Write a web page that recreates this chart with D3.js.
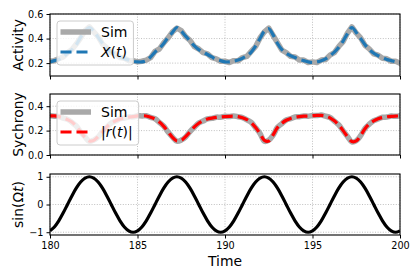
<!DOCTYPE html>
<html>
<head>
<meta charset="utf-8">
<script src="https://cdn.jsdelivr.net/npm/d3@7/dist/d3.min.js"></script>
<style>
  body { margin: 0; background: #fff; }
  svg { display: block; font-family: "DejaVu Sans", sans-serif; }
  .tick text { font-size: 9.7px; fill: #000; }
  .tick line { stroke: #000; }
</style>
</head>
<body>
<svg id="chart" width="420" height="280"></svg>
<script>
// time samples (x categories)
const TIME = [
  180, 180.25, 180.5, 180.75, 181, 181.25, 181.5, 181.75, 182, 182.25, 182.5, 182.75, 183, 183.25, 183.5, 183.75, 184, 184.25, 184.5, 184.75,
  185, 185.25, 185.5, 185.75, 186, 186.25, 186.5, 186.75, 187, 187.25, 187.5, 187.75, 188, 188.25, 188.5, 188.75, 189, 189.25, 189.5, 189.75,
  190, 190.25, 190.5, 190.75, 191, 191.25, 191.5, 191.75, 192, 192.25, 192.5, 192.75, 193, 193.25, 193.5, 193.75, 194, 194.25, 194.5, 194.75,
  195, 195.25, 195.5, 195.75, 196, 196.25, 196.5, 196.75, 197, 197.25, 197.5, 197.75, 198, 198.25, 198.5, 198.75, 199, 199.25, 199.5, 199.75,
  200
];

// Activity: simulation and X(t)
const simActivity = [
  0.215, 0.22, 0.235, 0.25, 0.285, 0.31, 0.355, 0.405, 0.465, 0.495, 0.455, 0.415, 0.355, 0.325, 0.285, 0.275, 0.245, 0.24, 0.22, 0.22,
  0.21, 0.215, 0.225, 0.245, 0.295, 0.315, 0.365, 0.405, 0.455, 0.485, 0.465, 0.415, 0.385, 0.335, 0.315, 0.285, 0.275, 0.245, 0.235, 0.215,
  0.215, 0.205, 0.22, 0.22, 0.245, 0.255, 0.295, 0.335, 0.405, 0.455, 0.485, 0.425, 0.365, 0.305, 0.285, 0.255, 0.25, 0.225, 0.225, 0.205,
  0.21, 0.205, 0.225, 0.23, 0.265, 0.285, 0.335, 0.375, 0.445, 0.495, 0.445, 0.405, 0.345, 0.315, 0.275, 0.265, 0.24, 0.235, 0.215, 0.215,
  0.2
];
const meanActivity = [
  0.21, 0.22, 0.23, 0.25, 0.28, 0.31, 0.35, 0.41, 0.46, 0.49, 0.46, 0.41, 0.36, 0.32, 0.29, 0.27, 0.25, 0.235, 0.225, 0.215,
  0.21, 0.21, 0.22, 0.25, 0.29, 0.32, 0.36, 0.41, 0.45, 0.49, 0.46, 0.42, 0.38, 0.34, 0.31, 0.29, 0.27, 0.25, 0.23, 0.22,
  0.21, 0.21, 0.215, 0.225, 0.24, 0.26, 0.29, 0.34, 0.40, 0.46, 0.48, 0.43, 0.36, 0.31, 0.28, 0.26, 0.245, 0.23, 0.22, 0.21,
  0.205, 0.21, 0.22, 0.235, 0.26, 0.29, 0.33, 0.38, 0.44, 0.49, 0.45, 0.40, 0.35, 0.31, 0.28, 0.26, 0.245, 0.23, 0.22, 0.21,
  0.205
];

// Synchrony: simulation and |r(t)|
const simSync = [
  0.322, 0.318, 0.316, 0.303, 0.292, 0.268, 0.238, 0.188, 0.148, 0.112, 0.122, 0.148, 0.192, 0.228, 0.262, 0.278, 0.297, 0.303, 0.312, 0.313,
  0.322, 0.32, 0.322, 0.308, 0.297, 0.268, 0.237, 0.188, 0.147, 0.113, 0.122, 0.148, 0.192, 0.228, 0.262, 0.278, 0.297, 0.3, 0.31, 0.31,
  0.317, 0.315, 0.32, 0.313, 0.307, 0.288, 0.267, 0.223, 0.177, 0.113, 0.122, 0.163, 0.227, 0.258, 0.287, 0.298, 0.312, 0.313, 0.32, 0.318,
  0.324, 0.323, 0.327, 0.318, 0.307, 0.278, 0.247, 0.198, 0.152, 0.108, 0.117, 0.158, 0.217, 0.253, 0.282, 0.295, 0.309, 0.311, 0.319, 0.317,
  0.322
];
const orderParam = [
  0.32, 0.32, 0.315, 0.305, 0.29, 0.27, 0.235, 0.19, 0.145, 0.115, 0.12, 0.15, 0.19, 0.23, 0.26, 0.28, 0.295, 0.305, 0.31, 0.315,
  0.32, 0.322, 0.32, 0.31, 0.295, 0.27, 0.235, 0.19, 0.145, 0.115, 0.12, 0.15, 0.19, 0.23, 0.26, 0.28, 0.295, 0.302, 0.308, 0.312,
  0.315, 0.317, 0.318, 0.315, 0.305, 0.29, 0.265, 0.225, 0.175, 0.12, 0.115, 0.165, 0.225, 0.26, 0.285, 0.30, 0.31, 0.315, 0.318, 0.32,
  0.322, 0.325, 0.325, 0.32, 0.305, 0.28, 0.245, 0.20, 0.15, 0.11, 0.115, 0.16, 0.215, 0.255, 0.28, 0.297, 0.307, 0.313, 0.317, 0.319,
  0.32
];

// drive signal sin(Ωt)
const drive = [
  -0.95, -0.81, -0.59, -0.31, 0, 0.31, 0.59, 0.81, 0.95, 1, 0.95, 0.81, 0.59, 0.31, 0, -0.31, -0.59, -0.81, -0.95, -1,
  -0.95, -0.81, -0.59, -0.31, 0, 0.31, 0.59, 0.81, 0.95, 1, 0.95, 0.81, 0.59, 0.31, 0, -0.31, -0.59, -0.81, -0.95, -1,
  -0.95, -0.81, -0.59, -0.31, 0, 0.31, 0.59, 0.81, 0.95, 1, 0.95, 0.81, 0.59, 0.31, 0, -0.31, -0.59, -0.81, -0.95, -1,
  -0.95, -0.81, -0.59, -0.31, 0, 0.31, 0.59, 0.81, 0.95, 1, 0.95, 0.81, 0.59, 0.31, 0, -0.31, -0.59, -0.81, -0.95, -1,
  -0.95
];

const xTicks = [180, 185, 190, 195, 200];
const activityTicks = [0.2, 0.4, 0.6];
const syncTicks = [0.0, 0.2, 0.4];
const driveTicks = [-1, 0, 1];

const LEFT = 50, RIGHT = 400;
const svg = d3.select("#chart");

const x = d3.scaleLinear().domain([180, 200]).range([LEFT, RIGHT]);

const panels = [
  { top: 14,  bottom: 76,  domain: [0.095, 0.6], ticks: activityTicks, fmt: d3.format(".1f") },
  { top: 94,  bottom: 155, domain: [0, 0.5],     ticks: syncTicks,     fmt: d3.format(".1f") },
  { top: 174, bottom: 235, domain: [-1.1, 1.1],  ticks: driveTicks,    fmt: d3.format("d") }
];

panels.forEach((p, i) => {
  p.y = d3.scaleLinear().domain(p.domain).range([p.bottom, p.top]);
  const g = svg.append("g");
  p.g = g;

  g.append("clipPath").attr("id", "clip" + i)
    .append("rect").attr("x", LEFT).attr("y", p.top)
    .attr("width", RIGHT - LEFT).attr("height", p.bottom - p.top);

  // grid
  g.selectAll(".vgrid").data(xTicks).join("line")
    .attr("x1", d => x(d)).attr("x2", d => x(d))
    .attr("y1", p.top).attr("y2", p.bottom)
    .attr("stroke", "#b0b0b0").attr("stroke-width", 0.8).attr("stroke-dasharray", "1,1.6");
  g.selectAll(".hgrid").data(p.ticks).join("line")
    .attr("x1", LEFT).attr("x2", RIGHT)
    .attr("y1", d => p.y(d)).attr("y2", d => p.y(d))
    .attr("stroke", "#b0b0b0").attr("stroke-width", 0.8).attr("stroke-dasharray", "1,1.6");

  // axes
  const yAxis = d3.axisLeft(p.y).tickValues(p.ticks).tickFormat(p.fmt).tickSize(3.5).tickPadding(3);
  g.append("g").attr("transform", `translate(${LEFT},0)`).call(yAxis)
    .call(a => a.select(".domain").remove());
  const xAxis = d3.axisBottom(x).tickValues(xTicks).tickSize(3.5).tickPadding(3.5)
    .tickFormat(i === 2 ? d3.format("d") : "");
  g.append("g").attr("transform", `translate(0,${p.bottom})`).call(xAxis)
    .call(a => a.select(".domain").remove());
  g.selectAll(".tick text").attr("font-family", "DejaVu Sans");

  p.plot = g.append("g").attr("clip-path", `url(#clip${i})`);
});

function lineFor(p, vals, curve) {
  return d3.line()
    .x((d, i) => x(TIME[i]))
    .y(d => p.y(d))
    .curve(curve)(vals);
}

// panel 1: activity
const P1 = panels[0];
P1.plot.append("path").attr("d", lineFor(P1, simActivity, d3.curveLinear))
  .attr("fill", "none").attr("stroke", "#a9a9a9").attr("stroke-width", 5.5)
  .attr("stroke-linejoin", "round").attr("stroke-linecap", "round");
P1.plot.append("path").attr("d", lineFor(P1, meanActivity, d3.curveCatmullRom))
  .attr("fill", "none").attr("stroke", "#1f77b4").attr("stroke-width", 3.2)
  .attr("stroke-dasharray", "11,5");

// panel 2: synchrony
const P2 = panels[1];
P2.plot.append("path").attr("d", lineFor(P2, simSync, d3.curveCatmullRom))
  .attr("fill", "none").attr("stroke", "#a9a9a9").attr("stroke-width", 5.5)
  .attr("stroke-linejoin", "round").attr("stroke-linecap", "round");
P2.plot.append("path").attr("d", lineFor(P2, orderParam, d3.curveCatmullRom))
  .attr("fill", "none").attr("stroke", "#ff0000").attr("stroke-width", 3.2)
  .attr("stroke-dasharray", "11,5");

// panel 3: drive
const P3 = panels[2];
P3.plot.append("path").attr("d", lineFor(P3, drive, d3.curveCatmullRom))
  .attr("fill", "none").attr("stroke", "#000").attr("stroke-width", 3.2)
  .attr("stroke-linejoin", "round");

// legends
function legend(p, color, labelParts) {
  const lg = p.g.append("g").attr("transform", `translate(57,${p.top + 7})`);
  const box = lg.append("rect").attr("x", 0).attr("y", 0).attr("height", 44)
    .attr("rx", 3).attr("fill", "#fff").attr("fill-opacity", 0.8)
    .attr("stroke", "#cccccc").attr("stroke-width", 1);
  lg.append("line").attr("x1", 3.5).attr("x2", 34).attr("y1", 11).attr("y2", 11)
    .attr("stroke", "#a9a9a9").attr("stroke-width", 5.5);
  lg.append("line").attr("x1", 3.5).attr("x2", 34).attr("y1", 31).attr("y2", 31)
    .attr("stroke", color).attr("stroke-width", 3.2).attr("stroke-dasharray", "11,5");
  const t1 = lg.append("text").attr("x", 44).attr("y", 11).attr("dy", "0.36em")
    .attr("font-size", 14).text("Sim");
  const t2 = lg.append("text").attr("x", 44).attr("y", 31).attr("dy", "0.36em")
    .attr("font-size", 14);
  labelParts.forEach(([s, it]) => {
    t2.append("tspan").attr("font-style", it ? "italic" : "normal").text(s);
  });
  const w = Math.max(t1.node().getComputedTextLength(), t2.node().getComputedTextLength());
  box.attr("width", 44 + w + 6);
}
legend(P1, "#1f77b4", [["X", true], ["(", false], ["t", true], [")", false]]);
legend(P2, "#ff0000", [["|", false], ["r", true], ["(", false], ["t", true], [")|", false]]);

// frames
panels.forEach(p => {
  p.g.append("rect").attr("x", LEFT).attr("y", p.top)
    .attr("width", RIGHT - LEFT).attr("height", p.bottom - p.top)
    .attr("fill", "none").attr("stroke", "#000").attr("stroke-width", 1.1);
});

// y labels
function yLabel(p, parts) {
  const cy = (p.top + p.bottom) / 2;
  const t = svg.append("text").attr("transform", `translate(23,${cy}) rotate(-90)`)
    .attr("text-anchor", "middle").attr("font-size", 13.9);
  parts.forEach(([s, it]) => t.append("tspan").attr("font-style", it ? "italic" : "normal").text(s));
}
yLabel(P1, [["Activity", false]]);
yLabel(P2, [["Sychrony", false]]);
yLabel(P3, [["sin(Ω", false], ["t", true], [")", false]]);

// x label
svg.append("text").attr("x", x(190)).attr("y", 266).attr("text-anchor", "middle")
  .attr("font-size", 13.9).text("Time");
</script>
</body>
</html>
